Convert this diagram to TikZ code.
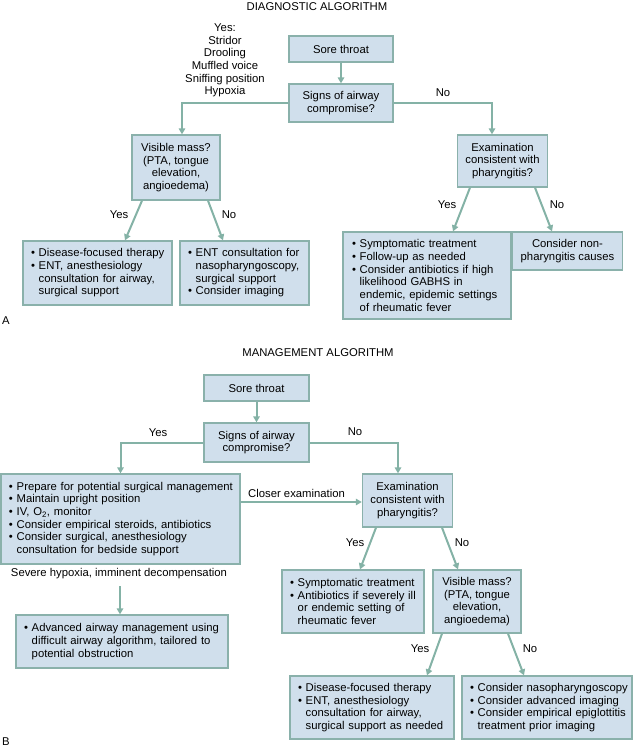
\documentclass[tikz,border=0pt]{standalone}
\usepackage{fontspec}
\setmainfont{Liberation Sans}
\usetikzlibrary{arrows.meta}
\definecolor{boxfill}{RGB}{208,223,236}
\definecolor{edgecol}{RGB}{138,177,171}
\definecolor{arrcol}{RGB}{132,178,166}
\newcommand{\bpad}{\phantom{•\ }}
\newcommand{\bl}[1]{\mbox{#1}}
\hfuzz=20pt
\tikzset{
  base/.style={font=\fontsize{11.3}{12.7}\selectfont},
  box/.style={base, draw=edgecol, fill=boxfill, line width=1.3pt, inner xsep=8pt, inner ysep=2pt},
  cbox/.style={box, align=center},
  lbox/.style={box, align=left},
  lbl/.style={base, inner sep=0pt},
  arr/.style={draw=arrcol, line width=2pt, -{Triangle[length=6pt,width=6.5pt]}},
}
\begin{document}
\begin{tikzpicture}[x=1pt,y=-1pt]
\useasboundingbox (0,0) rectangle (636,750);

% ---------------- DIAGNOSTIC ----------------
\node[lbl] (dtitle) at (317,7) {DIAGNOSTIC ALGORITHM};
\node[cbox, minimum width=104pt, minimum height=26pt] (dsore) at (341,49) {Sore throat};
\node[cbox, minimum width=104pt, minimum height=38pt] (dsigns) at (341,103) {Signs of airway\\compromise?};
\node[lbl, align=center] (dyes) at (225,60.5) {Yes:\\Stridor\\Drooling\\Muffled voice\\Sniffing position\\Hypoxia};
\node[lbl] (dno) at (443,93) {No};
\node[cbox, minimum width=88pt, minimum height=65pt] (dvis) at (176,167.5) {Visible mass?\\(PTA, tongue\\elevation,\\angioedema)};
\node[cbox, minimum width=89pt, minimum height=52pt] (dexam) at (502.5,161) {Examination\\consistent with\\pharyngitis?};
\node[lbox, minimum width=149pt, minimum height=64pt, text width=133pt] (ddis) at (97.5,273) {\bl{• Disease-focused therapy}\\\bl{• ENT, anesthesiology}\\\bl{\bpad consultation for airway,}\\\bl{\bpad surgical support}};
\node[lbox, minimum width=129pt, minimum height=64pt, text width=113pt] (dent) at (244.5,273) {\bl{• ENT consultation for}\\\bl{\bpad nasopharyngoscopy,}\\\bl{\bpad surgical support}\\\bl{• Consider imaging}};
\node[lbox, minimum width=168pt, minimum height=87pt, text width=150pt, inner xsep=9pt] (dsym) at (427,275.5) {\bl{• Symptomatic treatment}\\\bl{• Follow-up as needed}\\\bl{• Consider antibiotics if high}\\\bl{\bpad likelihood GABHS in}\\\bl{\bpad endemic, epidemic settings}\\\bl{\bpad of rheumatic fever}};
\node[cbox, minimum width=109pt, minimum height=38pt] (dnon) at (567.5,251) {Consider non-\\pharyngitis causes};
\node[lbl] (dvyes) at (119,215) {Yes};
\node[lbl] (dvno) at (229,215) {No};
\node[lbl] (deyes) at (447,205) {Yes};
\node[lbl] (deno) at (557,205) {No};
\node[lbl] (la) at (6,321) {A};

\draw[arr] (dsore) -- (dsigns);
\draw[arr] (dsigns.west) -| ([xshift=6pt]dvis.north);
\draw[arr] (dsigns.east) -| ([xshift=-10.5pt]dexam.north);
\draw[arr] ([xshift=-34pt]dvis.south) -- ([xshift=27.5pt]ddis.north);
\draw[arr] ([xshift=32pt]dvis.south) -- ([xshift=-21.5pt]dent.north);
\draw[arr] ([xshift=-32.5pt]dexam.south) -- ([xshift=26pt]dsym.north);
\draw[arr] ([xshift=32.5pt]dexam.south) -- ([xshift=-15.5pt]dnon.north);

% ---------------- MANAGEMENT ----------------
\node[lbl] (mtitle) at (318,353) {MANAGEMENT ALGORITHM};
\node[cbox, minimum width=105pt, minimum height=26pt] (msore) at (256.5,388) {Sore throat};
\node[cbox, minimum width=105pt, minimum height=39pt] (msigns) at (256.5,442.5) {Signs of airway\\compromise?};
\node[lbl] (myes) at (158,433) {Yes};
\node[lbl] (mno) at (355,432) {No};
\node[lbox, minimum width=239pt, minimum height=90pt, text width=223pt] (mprep) at (120.5,519) {\bl{• Prepare for potential surgical management}\\\bl{• Maintain upright position}\\\bl{• IV, O\textsubscript{2}, monitor}\\\bl{• Consider empirical steroids, antibiotics}\\\bl{• Consider surgical, anesthesiology}\\\bl{\bpad consultation for bedside support}};
\node[cbox, minimum width=89pt, minimum height=53pt] (mexam) at (407.5,500.5) {Examination\\consistent with\\pharyngitis?};
\node[lbl, anchor=west] (mcloser) at (248,493) {Closer examination};
\node[lbl] (msev) at (119,574) {Severe hypoxia, imminent decompensation};
\coordinate (msevtail) at (120,586);
\node[lbox, minimum width=212pt, minimum height=53pt, text width=196pt] (madv) at (122,641.5) {\bl{• Advanced airway management using}\\\bl{\bpad difficult airway algorithm, tailored to}\\\bl{\bpad potential obstruction}};
\node[lbox, minimum width=142pt, minimum height=63pt, text width=126pt] (msym) at (353,601.5) {\bl{• Symptomatic treatment}\\\bl{• Antibiotics if severely ill}\\\bl{\bpad or endemic setting of}\\\bl{\bpad rheumatic fever}};
\node[cbox, minimum width=88pt, minimum height=63pt] (mvis) at (477,601.5) {Visible mass?\\(PTA, tongue\\elevation,\\angioedema)};
\node[lbox, minimum width=164pt, minimum height=63pt, text width=148pt] (mdis) at (372,707.5) {\bl{• Disease-focused therapy}\\\bl{• ENT, anesthesiology}\\\bl{\bpad consultation for airway,}\\\bl{\bpad surgical support as needed}};
\node[lbox, minimum width=170pt, minimum height=63pt, text width=154pt] (mcon) at (547,707.5) {\bl{• Consider nasopharyngoscopy}\\\bl{• Consider advanced imaging}\\\bl{• Consider empirical epiglottitis}\\\bl{\bpad treatment prior imaging}};
\node[lbl] (meyes) at (355,543) {Yes};
\node[lbl] (meno) at (462,543) {No};
\node[lbl] (mvyes) at (420,649) {Yes};
\node[lbl] (mvno) at (530,649) {No};
\node[lbl] (lb) at (6,742) {B};

\draw[arr] (msore) -- (msigns);
\draw[arr] (msigns.west) -| (mprep.north);
\draw[arr] (msigns.east) -| ([xshift=-9.5pt]mexam.north);
\draw[arr] ([yshift=17pt]mprep.east) -- ([yshift=17pt]mprep.east -| mexam.west);
\draw[arr] (msevtail) -- (msevtail |- madv.north);
\draw[arr] ([xshift=-31.5pt]mexam.south) -- ([xshift=7pt]msym.north);
\draw[arr] ([xshift=34.5pt]mexam.south) -- ([xshift=-19pt]mvis.north);
\draw[arr] ([xshift=-35pt]mvis.south) -- ([xshift=55pt]mdis.north);
\draw[arr] ([xshift=31pt]mvis.south) -- ([xshift=-23pt]mcon.north);
\end{tikzpicture}
\end{document}
